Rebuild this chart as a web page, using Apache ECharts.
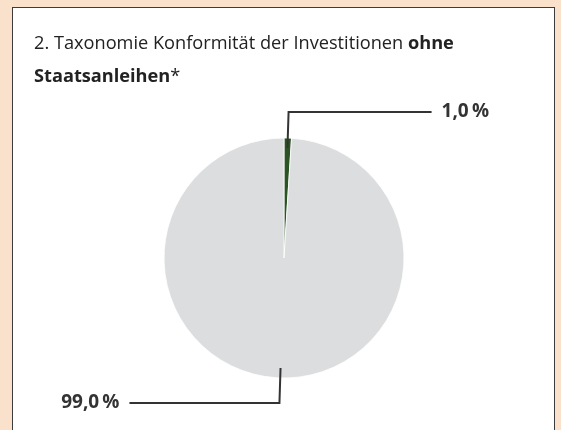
<!DOCTYPE html>
<html>
<head>
<meta charset="utf-8">
<script src="https://cdn.jsdelivr.net/npm/echarts@6/dist/echarts.min.js"></script>
<style>
html,body{margin:0;padding:0;width:561px;height:430px;background:#f9e1cc;overflow:hidden;}
#panel{position:absolute;left:12px;top:7px;width:543px;height:440px;background:#fff;border:1.5px solid #3c3c3c;box-sizing:border-box;}
#chart{position:absolute;left:0;top:0;width:561px;height:430px;}
</style>
</head>
<body>
<div id="panel"></div>
<div id="chart"></div>
<script>
const categories = ['Taxonomiekonform', 'Nicht taxonomiekonform'];
const values = [1.0, 99.0];
const colors = ['#2b5424', '#dcdddf'];

const chart = echarts.init(document.getElementById('chart'), null, {renderer: 'canvas'});
const fmt = v => v.toFixed(1).replace('.', ',') + '\u2009%';
const lineLen = [[36, 143], [35, 150]];

const option = {
  backgroundColor: 'transparent',
  animation: false,
  title: {
    left: 29, top: 22,
    text: '{a|2. Taxonomie Konformität der Investitionen }{b|ohne}\n{b|Staatsanleihen}{a|*}',
    textStyle: {
      rich: {
        a: {fontFamily: 'Open Sans', fontSize: 18.2, fontWeight: 'normal', color: '#222', lineHeight: 33},
        b: {fontFamily: 'Open Sans', fontSize: 18.2, fontWeight: 'bold', color: '#222', lineHeight: 33}
      }
    }
  },
  series: [
    {
      type: 'pie',
      center: [284, 258],
      radius: 120,
      startAngle: 90,
      clockwise: true,
      silent: true,
      label: {show: false},
      labelLine: {show: false},
      itemStyle: {borderColor: '#fff', borderWidth: 0.8},
      data: categories.map((c, i) => ({name: c, value: values[i], itemStyle: {color: colors[i]}}))
    },
    {
      type: 'pie',
      center: [284, 258],
      radius: 110,
      startAngle: 90,
      clockwise: true,
      silent: true,
      z: 5,
      avoidLabelOverlap: false,
      itemStyle: {color: 'rgba(0,0,0,0)'},
      label: {
        show: true,
        position: 'outside',
        formatter: p => fmt(p.value),
        fontFamily: 'Open Sans',
        fontWeight: 'bold',
        fontSize: 19,
        color: '#333',
        distanceToLabelLine: 10
      },
      labelLine: {show: true, lineStyle: {color: '#333', width: 2}},
      data: categories.map((c, i) => ({
        name: c, value: values[i],
        labelLine: {length: lineLen[i][0], length2: lineLen[i][1]}
      }))
    }
  ]
};
chart.setOption(option);
</script>
</body>
</html>
